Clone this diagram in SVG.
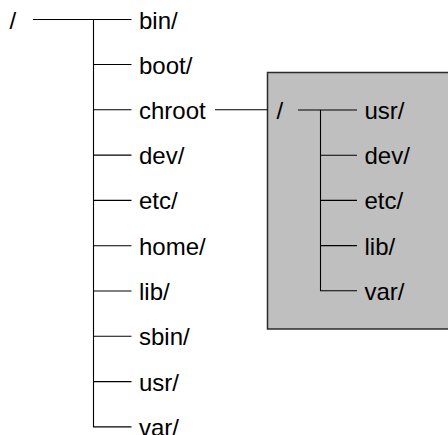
<svg xmlns="http://www.w3.org/2000/svg" width="448" height="435" viewBox="0 0 448 435">
  <style>
    text { font-family: "Liberation Sans", Arial, Helvetica, sans-serif; font-size: 24px; fill: #000; }
    .conn line { stroke: #000; stroke-width: 1.1; fill: none; }
    .box { fill: #bfbfbf; stroke: #2a2a2a; stroke-width: 1.5; }
  </style>
  <rect width="448" height="435" fill="#fff"/>

  <!-- chroot environment container -->
  <g id="chroot-box">
    <rect class="box" x="267.5" y="72.5" width="182" height="256.5"/>
  </g>

  <g class="conn" id="connectors">
    <!-- main tree -->
    <line x1="33" y1="19.5" x2="131.5" y2="19.5"/>
    <line x1="93.5" y1="19" x2="93.5" y2="427"/>
    <line x1="93.5" y1="64.5" x2="131.5" y2="64.5"/>
    <line x1="93.5" y1="109.8" x2="131.5" y2="109.8"/>
    <line x1="93.5" y1="155.1" x2="131.5" y2="155.1"/>
    <line x1="93.5" y1="200.4" x2="131.5" y2="200.4"/>
    <line x1="93.5" y1="245.7" x2="131.5" y2="245.7"/>
    <line x1="93.5" y1="291" x2="131.5" y2="291"/>
    <line x1="93.5" y1="336.3" x2="131.5" y2="336.3"/>
    <line x1="93.5" y1="381.6" x2="131.5" y2="381.6"/>
    <line x1="93" y1="426.9" x2="131.5" y2="426.9"/>
    <!-- chroot link -->
    <line x1="215" y1="109.8" x2="267.5" y2="109.8"/>
    <!-- inner tree -->
    <line x1="298" y1="110" x2="357" y2="110"/>
    <line x1="320.5" y1="110" x2="320.5" y2="291"/>
    <line x1="320.5" y1="155.2" x2="357" y2="155.2"/>
    <line x1="320.5" y1="200.4" x2="357" y2="200.4"/>
    <line x1="320.5" y1="245.6" x2="357" y2="245.6"/>
    <line x1="320" y1="290.8" x2="357" y2="290.8"/>
  </g>

  <g id="root"><text x="9.5" y="28.5">/</text></g>
  <g id="bin"><text x="139" y="28.5">bin/</text></g>
  <g id="boot"><text x="139" y="73.5">boot/</text></g>
  <g id="chroot"><text x="139" y="118.8">chroot</text></g>
  <g id="dev"><text x="139" y="164.1">dev/</text></g>
  <g id="etc"><text x="139" y="209.4">etc/</text></g>
  <g id="home"><text x="139" y="254.7">home/</text></g>
  <g id="lib"><text x="139" y="300">lib/</text></g>
  <g id="sbin"><text x="139" y="345.3">sbin/</text></g>
  <g id="usr"><text x="139" y="390.6">usr/</text></g>
  <g id="var"><text x="139" y="435.9">var/</text></g>

  <g id="chroot-root"><text x="276.5" y="119">/</text></g>
  <g id="chroot-usr"><text x="364.5" y="119">usr/</text></g>
  <g id="chroot-dev"><text x="364.5" y="164.2">dev/</text></g>
  <g id="chroot-etc"><text x="364.5" y="209.4">etc/</text></g>
  <g id="chroot-lib"><text x="364.5" y="254.6">lib/</text></g>
  <g id="chroot-var"><text x="364.5" y="299.8">var/</text></g>
</svg>
